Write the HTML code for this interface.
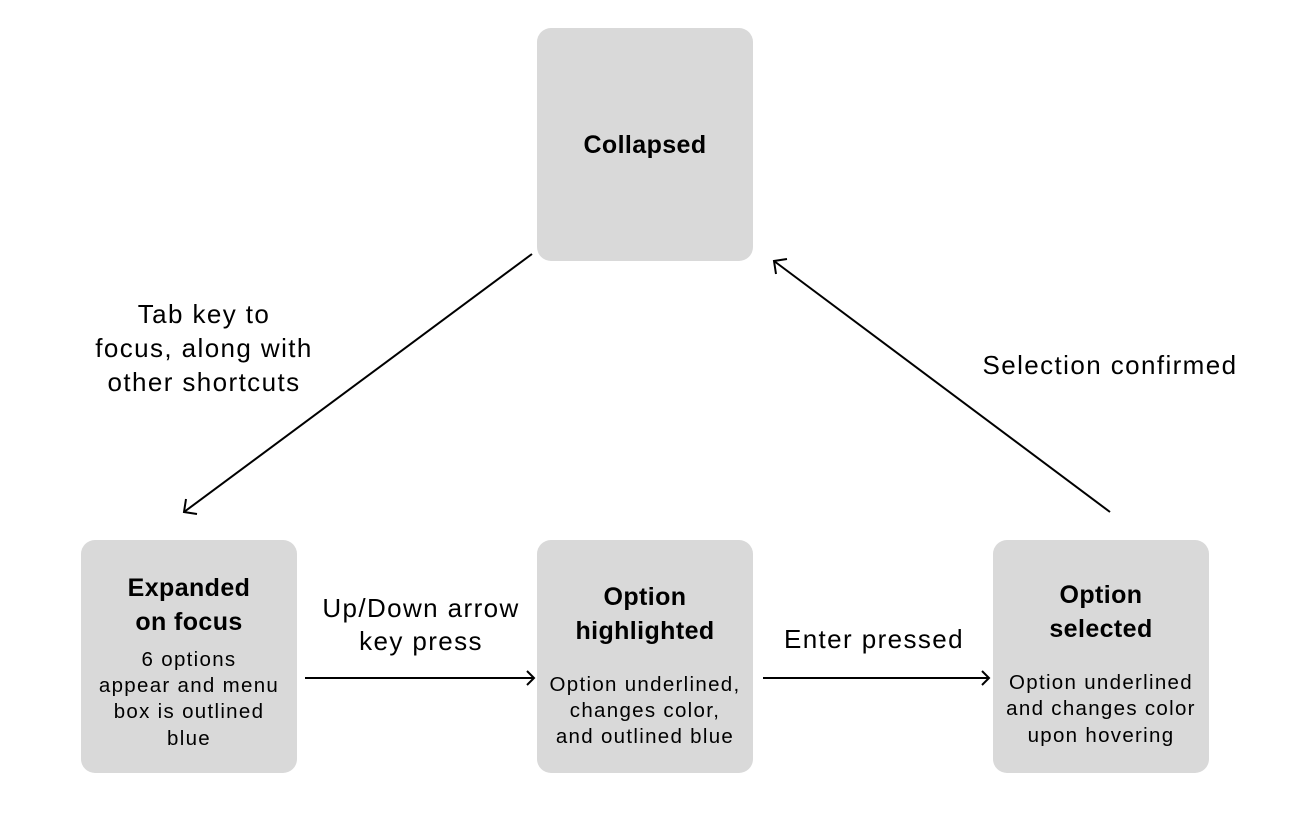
<!DOCTYPE html>
<html><head><meta charset="utf-8"><style>
body{margin:0;width:1296px;height:820px;background:#fff;position:relative;overflow:hidden;font-family:"Liberation Sans",Arial,sans-serif;color:#000}
.box{position:absolute;width:216px;height:233px;background:#d9d9d9;border-radius:14px}
.t{position:absolute;width:400px;text-align:center;white-space:nowrap;line-height:34px;height:34px}
.b{font-weight:bold;font-size:25px;letter-spacing:0.4px}
.d{font-size:20.5px;line-height:26px;height:26px;letter-spacing:1.3px}
.l{font-size:26px;letter-spacing:1.4px}
svg{position:absolute;left:0;top:0}
</style></head><body>
<div class="box" style="left:537px;top:28px"></div>
<div class="box" style="left:81px;top:540px"></div>
<div class="box" style="left:537px;top:540px"></div>
<div class="box" style="left:993px;top:540px"></div>
<svg width="1296" height="820" fill="none" stroke="#000" stroke-width="2">
<line x1="532" y1="254" x2="184" y2="512"/><polyline points="197,514 184,512 186,499"/>
<line x1="1110" y1="512" x2="774" y2="261"/><polyline points="776,274 774,261 787,259"/>
<line x1="305" y1="678" x2="533" y2="678"/><polyline points="527,671 534,678 527,685"/>
<line x1="763" y1="678" x2="988" y2="678"/><polyline points="982,671 989,678 982,685"/>
</svg>
<div class="t b" style="left:445px;top:128px">Collapsed</div>
<div class="t b" style="left:-11px;top:571px">Expanded</div>
<div class="t b" style="left:-11px;top:605px">on focus</div>
<div class="t d" style="left:-11px;top:647px">6 options</div>
<div class="t d" style="left:-11px;top:673px">appear and menu</div>
<div class="t d" style="left:-11px;top:699px">box is outlined</div>
<div class="t d" style="left:-11px;top:726px">blue</div>
<div class="t b" style="left:445px;top:580px">Option</div>
<div class="t b" style="left:445px;top:614px">highlighted</div>
<div class="t d" style="left:445px;top:672px">Option underlined,</div>
<div class="t d" style="left:445px;top:698px">changes color,</div>
<div class="t d" style="left:445px;top:724px">and outlined blue</div>
<div class="t b" style="left:901px;top:578px">Option</div>
<div class="t b" style="left:901px;top:612px">selected</div>
<div class="t d" style="left:901px;top:670px">Option underlined</div>
<div class="t d" style="left:901px;top:696px">and changes color</div>
<div class="t d" style="left:901px;top:723px">upon hovering</div>
<div class="t l" style="left:4px;top:297px">Tab key to</div>
<div class="t l" style="left:4px;top:331px">focus, along with</div>
<div class="t l" style="left:4px;top:365px">other shortcuts</div>
<div class="t l" style="left:910px;top:348px">Selection confirmed</div>
<div class="t l" style="left:221px;top:591px">Up/Down arrow</div>
<div class="t l" style="left:221px;top:624px">key press</div>
<div class="t l" style="left:674px;top:622px">Enter pressed</div>
</body></html>
